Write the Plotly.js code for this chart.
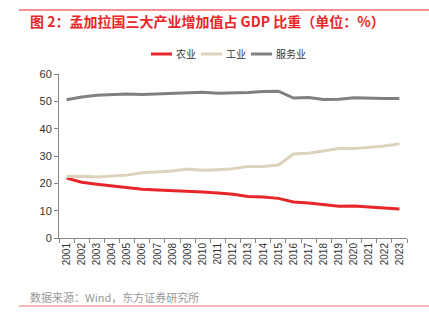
<!DOCTYPE html>
<html><head><meta charset="utf-8">
<script src="https://cdn.plot.ly/plotly-3.0.1.min.js"></script>
<style>html,body{margin:0;padding:0;background:#fff}#c{width:429px;height:322px}</style>
</head><body><div id="c"></div>
<script>
const years = ['2001','2002','2003','2004','2005','2006','2007','2008','2009','2010','2011','2012','2013','2014','2015','2016','2017','2018','2019','2020','2021','2022','2023'];
const agriculture = [21.9,20.4,19.7,19.1,18.4,17.8,17.6,17.4,17.0,16.8,16.5,16.0,15.2,15.0,14.5,13.2,12.8,12.3,11.6,11.7,11.4,11.0,10.6];
const industry = [22.5,22.6,22.3,22.6,23.0,23.9,24.2,24.5,25.2,24.8,25.0,25.3,26.2,26.2,26.7,30.7,31.0,31.8,32.7,32.7,33.1,33.7,34.5];
const services = [50.6,51.6,52.2,52.5,52.7,52.5,52.7,52.7,53.0,53.3,53.0,53.0,53.2,53.6,53.7,51.2,51.4,50.7,50.8,51.3,51.1,51.0,51.0];
const seriesNames = ['农业','工业','服务业'];
const colors = ['#E8262A','#DDD3BC','#808080'];
const titleText = '图 2：孟加拉国三大产业增加值占 GDP 比重（单位：%）';
const sourceText = '数据来源：Wind，东方证券研究所';

const data = [agriculture, industry, services].map((v,i)=>({
  x: years, y: v, type:'scatter', mode:'lines', name: seriesNames[i],
  line:{color:colors[i], width:3}
}));
const L=59, R=22, T=74, B=84, W=429-L-R, H=322-T-B;
const px = x => (x-L)/W, py = y => (322-B-y)/H;
// custom legend (positions in pixels)
const legX = [151, 201, 251];
const shapes = [
  {type:'line', xref:'paper', yref:'paper', x0:px(19), x1:px(429), y0:py(10), y1:py(10), line:{color:'#E8262A', width:1}},
  {type:'line', xref:'paper', yref:'paper', x0:px(19), x1:px(429), y0:py(306), y1:py(306), line:{color:'#F07070', width:1}}
];
const annotations = [
  {text:titleText, xref:'paper', yref:'paper', x:px(28), y:py(21), xanchor:'left', yanchor:'middle', showarrow:false,
   font:{family:'"Noto Sans CJK SC", sans-serif', size:14, color:'#E8262A', weight:'bold'}},
  {text:sourceText, xref:'paper', yref:'paper', x:px(28), y:py(297), xanchor:'left', yanchor:'middle', showarrow:false,
   font:{family:'"Noto Sans CJK SC", sans-serif', size:11, color:'#999'}}
];
seriesNames.forEach((n,i)=>{
  shapes.push({type:'line', xref:'paper', yref:'paper', x0:px(legX[i]), x1:px(legX[i]+21), y0:py(54), y1:py(54), line:{color:colors[i], width:3}});
  annotations.push({text:n, xref:'paper', yref:'paper', x:px(legX[i]+23), y:py(54), xanchor:'left', yanchor:'middle', showarrow:false,
    font:{family:'"Noto Sans CJK SC", sans-serif', size:10, color:'#333'}});
});
const layout = {
  width:429, height:322,
  margin:{l:L,r:R,t:T,b:B},
  paper_bgcolor:'#fff', plot_bgcolor:'#fff',
  font:{family:'"Noto Sans CJK SC", "Liberation Sans", Arial, sans-serif', size:10, color:'#333'},
  showlegend:false,
  xaxis:{type:'category', range:[-0.5, years.length-0.5], showgrid:false, zeroline:false, showline:true, linecolor:'#888', linewidth:1,
    ticks:'outside', ticklen:4, tickcolor:'#888', tickson:'boundaries', tickangle:-90,
    tickfont:{family:'"Liberation Sans", Arial, sans-serif', size:10, color:'#333'}, fixedrange:true},
  yaxis:{range:[0,60], dtick:10, showgrid:false, zeroline:false, showline:true, linecolor:'#888', linewidth:1,
    ticks:'outside', ticklen:4, tickcolor:'#888',
    tickfont:{family:'"Liberation Sans", Arial, sans-serif', size:11, color:'#333'}, fixedrange:true},
  shapes: shapes,
  annotations: annotations
};
Plotly.newPlot('c', data, layout, {displayModeBar:false, staticPlot:true});
</script></body></html>
